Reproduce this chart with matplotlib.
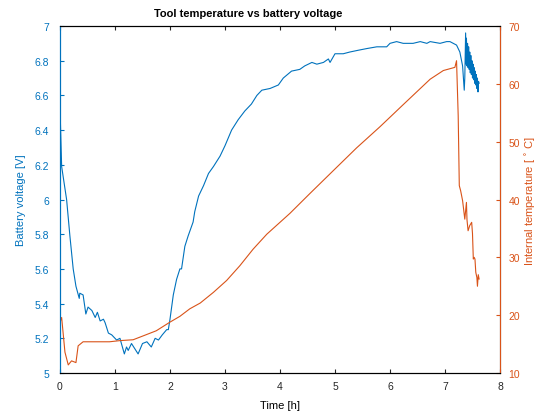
import matplotlib
matplotlib.use('Agg')
import matplotlib.pyplot as plt

plt.rcParams['font.family'] = ['Liberation Sans', 'DejaVu Sans']

blue = '#0072BD'
orange = '#D95319'

# battery voltage [V] vs time [h]
t_v = [0.0, 0.03, 0.12, 0.18, 0.24, 0.29, 0.35, 0.36, 0.42, 0.47, 0.51, 0.58, 0.64,
       0.68, 0.73, 0.79, 0.82, 0.88, 0.94, 1.03, 1.09, 1.17, 1.21, 1.24, 1.30, 1.36,
       1.42, 1.50, 1.58, 1.66, 1.73, 1.79, 1.86, 1.94, 1.97, 2.00, 2.06, 2.12, 2.18,
       2.21, 2.27, 2.33, 2.42, 2.45, 2.52, 2.61, 2.70, 2.79, 2.91, 3.00, 3.12, 3.24,
       3.36, 3.48, 3.58, 3.67, 3.82, 3.97, 4.06, 4.21, 4.36, 4.45, 4.58, 4.67, 4.79,
       4.88, 4.91, 5.00, 5.15, 5.27, 5.42, 5.58, 5.76, 5.94, 6.00, 6.12, 6.24, 6.42,
       6.55, 6.67, 6.73, 6.91, 7.03, 7.09, 7.21, 7.27, 7.32, 7.35, 7.36, 7.375,
       7.385, 7.39, 7.40, 7.41, 7.42, 7.43, 7.44, 7.45, 7.46, 7.47, 7.48, 7.49,
       7.50, 7.51, 7.52, 7.53, 7.54, 7.55, 7.56, 7.57, 7.58, 7.59, 7.60, 7.61, 7.62]
volt = [6.53, 6.19, 6.00, 5.79, 5.60, 5.50, 5.43, 5.46, 5.45, 5.34, 5.38, 5.36, 5.32,
        5.35, 5.30, 5.31, 5.29, 5.23, 5.22, 5.19, 5.20, 5.11, 5.15, 5.13, 5.17, 5.14,
        5.11, 5.17, 5.18, 5.15, 5.20, 5.19, 5.22, 5.25, 5.25, 5.31, 5.45, 5.54, 5.60,
        5.60, 5.73, 5.79, 5.87, 5.93, 6.02, 6.08, 6.15, 6.19, 6.25, 6.31, 6.40, 6.46,
        6.51, 6.55, 6.60, 6.63, 6.64, 6.66, 6.70, 6.74, 6.75, 6.77, 6.79, 6.78, 6.79,
        6.81, 6.79, 6.84, 6.84, 6.85, 6.86, 6.87, 6.88, 6.88, 6.90, 6.91, 6.90, 6.90,
        6.91, 6.90, 6.91, 6.90, 6.91, 6.91, 6.89, 6.85, 6.77, 6.63, 6.70, 6.96,
        6.78, 6.93, 6.77, 6.90, 6.76, 6.88, 6.75, 6.85, 6.73, 6.83, 6.72, 6.80,
        6.70, 6.78, 6.69, 6.76, 6.67, 6.74, 6.66, 6.72, 6.64, 6.70, 6.62, 6.68, 6.67]

# internal temperature [degC] vs time [h]
t_temp = [0.0, 0.03, 0.09, 0.15, 0.21, 0.29, 0.33, 0.42, 0.6, 0.9, 1.09, 1.33, 1.52,
          1.75, 2.0, 2.18, 2.36, 2.55, 2.79, 3.03, 3.27, 3.51, 3.76, 4.18, 4.54,
          4.97, 5.39, 5.82, 6.24, 6.73, 6.97, 7.18, 7.21, 7.24, 7.26, 7.285, 7.32,
          7.345, 7.36, 7.39, 7.40, 7.42, 7.45, 7.485, 7.50, 7.515, 7.53, 7.545, 7.56,
          7.58, 7.59, 7.605, 7.62]
temp = [18.8, 19.6, 13.6, 11.4, 12.1, 11.8, 14.7, 15.4, 15.4, 15.4, 15.6, 15.75,
        16.45, 17.3, 18.8, 19.8, 21.1, 22.1, 23.95, 26.0, 28.55, 31.4, 34.0,
        37.6, 41.0, 45.0, 48.9, 52.6, 56.4, 60.8, 62.3, 62.85, 64.0, 54.5, 42.4,
        41.5, 39.8, 37.8, 36.6, 39.5, 36.5, 34.6, 35.5, 36.05, 34.1, 29.7, 30.0,
        29.7, 27.4, 26.5, 25.0, 27.0, 26.25]

fig = plt.figure(figsize=(5.41, 4.14), dpi=100)
ax = fig.add_axes([0.1109, 0.0966, 0.8133, 0.8382])
ax.plot(t_v, volt, color=blue, lw=0.8)
ax.set_xlim(0, 8)
ax.set_ylim(5, 7)
ax.set_xticks(range(0, 9))
ax.set_yticks([5, 5.2, 5.4, 5.6, 5.8, 6, 6.2, 6.4, 6.6, 6.8, 7])
ax.set_yticklabels(['5', '5.2', '5.4', '5.6', '5.8', '6', '6.2', '6.4', '6.6', '6.8', '7'])
ax.set_xlabel('Time [h]', fontsize=8, labelpad=6)
ax.set_ylabel('Battery voltage [V]', color=blue, fontsize=8, labelpad=6)
ax.set_title('Tool temperature vs battery voltage', fontsize=8, fontweight='bold',
             x=0.427, pad=7)
ax.tick_params(axis='x', direction='in', top=True, labelsize=7.5, colors='#262626',
               length=3, pad=6)
ax.tick_params(axis='y', direction='in', colors=blue, labelsize=7.5, length=3, pad=8)
ax.spines['left'].set_color(blue)

ax2 = ax.twinx()
ax2.plot(t_temp, temp, color=orange, lw=0.8)
ax2.set_ylim(10, 70)
ax2.set_yticks(range(10, 71, 10))
ax2.set_ylabel(r'Internal temperature [ $^{\circ}$ C]', color=orange, fontsize=8,
               labelpad=3)
ax2.tick_params(axis='y', direction='in', colors=orange, labelsize=7.5, length=3, pad=6)
ax2.spines['right'].set_color(orange)
ax2.spines['left'].set_color(blue)

fig.savefig('out.png', dpi=100)
